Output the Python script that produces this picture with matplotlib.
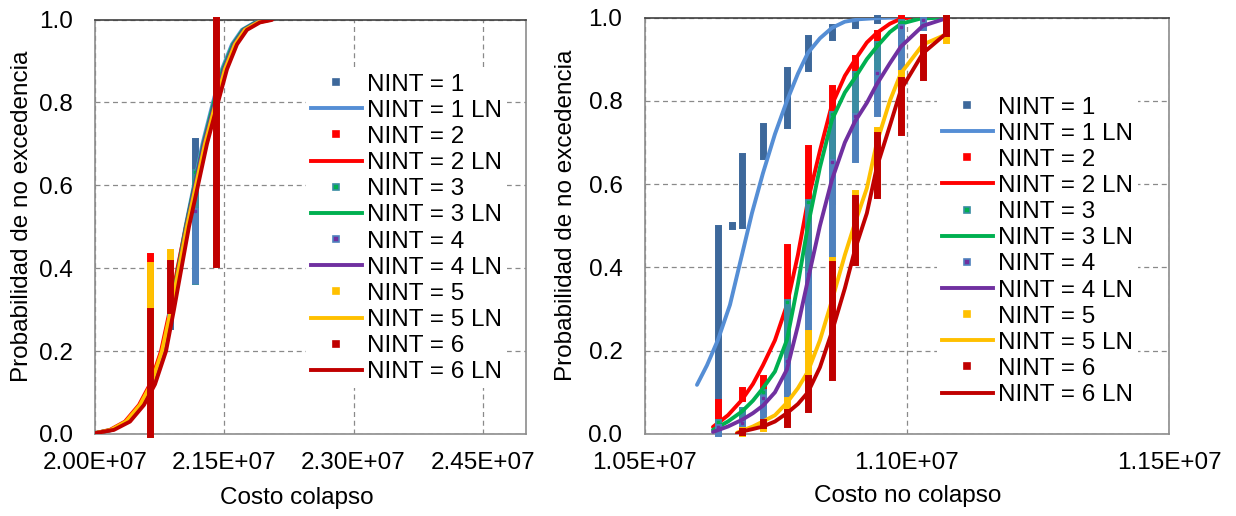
import matplotlib.pyplot as plt
from matplotlib.lines import Line2D

plt.rcParams['font.family'] = ['Liberation Sans', 'DejaVu Sans']

# ---- Costo colapso (izquierda) ----
# puntos empíricos: (costo, prob. inferior, prob. superior) de cada columna de marcadores
cc_pts = [
    [(2.064e7, 0.0, 0.25), (2.087e7, 0.26, 0.36), (2.116e7, 0.372, 0.706), (2.140e7, 0.715, 1.0)],
    [(2.064e7, 0.0, 0.43), (2.140e7, 0.44, 1.0)],
    [(2.064e7, 0.0, 0.28), (2.087e7, 0.29, 0.36), (2.116e7, 0.37, 0.632), (2.140e7, 0.64, 1.0)],
    [(2.064e7, 0.0, 0.28), (2.087e7, 0.29, 0.36), (2.116e7, 0.372, 0.538), (2.140e7, 0.55, 1.0)],
    [(2.064e7, 0.0, 0.407), (2.087e7, 0.41, 0.438), (2.140e7, 0.44, 1.0)],
    [(2.064e7, 0.0, 0.296), (2.087e7, 0.30, 0.412), (2.140e7, 0.41, 1.0)],
]
# curvas lognormales ajustadas
cc_ln_p = [0.002, 0.01, 0.03, 0.07, 0.12, 0.2, 0.3, 0.4, 0.5, 0.6, 0.7, 0.8, 0.88, 0.94, 0.975, 0.993, 0.999]
cc_ln_x = [
    [2.0000, 2.0197, 2.0371, 2.0534, 2.0661, 2.0789, 2.0881, 2.0963, 2.1050, 2.1148, 2.1247, 2.1369, 2.1473, 2.1589, 2.1705, 2.1856, 2.1995],
    [2.0000, 2.0174, 2.0348, 2.0510, 2.0638, 2.0766, 2.0870, 2.0957, 2.1055, 2.1160, 2.1264, 2.1392, 2.1496, 2.1612, 2.1728, 2.1879, 2.2018],
    [2.0000, 2.0197, 2.0371, 2.0534, 2.0661, 2.0789, 2.0881, 2.0968, 2.1055, 2.1154, 2.1258, 2.1380, 2.1485, 2.1601, 2.1717, 2.1867, 2.2007],
    [2.0000, 2.0203, 2.0377, 2.0539, 2.0667, 2.0795, 2.0893, 2.0974, 2.1061, 2.1160, 2.1264, 2.1392, 2.1496, 2.1612, 2.1728, 2.1879, 2.2018],
    [2.0000, 2.0186, 2.0360, 2.0522, 2.0650, 2.0777, 2.0881, 2.0974, 2.1067, 2.1171, 2.1276, 2.1403, 2.1508, 2.1624, 2.1740, 2.1891, 2.2030],
    [2.0000, 2.0220, 2.0406, 2.0568, 2.0696, 2.0824, 2.0916, 2.1003, 2.1090, 2.1195, 2.1299, 2.1427, 2.1531, 2.1647, 2.1763, 2.1914, 2.2053],
]

# ---- Costo no colapso (derecha) ----
cnc_pts = [
    [(1.0640e7, 0.008, 0.494), (1.0666e7, 0.499, 0.503), (1.0685e7, 0.503, 0.667), (1.0726e7, 0.668, 0.740),
     (1.0771e7, 0.742, 0.874), (1.0812e7, 0.878, 0.950), (1.0858e7, 0.954, 0.978), (1.0901e7, 0.982, 0.990),
     (1.0943e7, 0.994, 0.998)],
    [(1.0640e7, 0.008, 0.078), (1.0685e7, 0.086, 0.105), (1.0726e7, 0.113, 0.134), (1.0771e7, 0.14, 0.45),
     (1.0812e7, 0.455, 0.686), (1.0858e7, 0.69, 0.83), (1.0901e7, 0.835, 0.902), (1.0943e7, 0.906, 0.962),
     (1.0989e7, 0.966, 0.998)],
    [(1.0640e7, 0.005, 0.03), (1.0685e7, 0.035, 0.058), (1.0726e7, 0.06, 0.10), (1.0771e7, 0.105, 0.317),
     (1.0812e7, 0.32, 0.557), (1.0858e7, 0.56, 0.768), (1.0901e7, 0.77, 0.864), (1.0943e7, 0.868, 0.936),
     (1.0989e7, 0.94, 0.99)],
    [(1.0640e7, 0.003, 0.018), (1.0685e7, 0.02, 0.026), (1.0726e7, 0.03, 0.086), (1.0771e7, 0.09, 0.175),
     (1.0812e7, 0.19, 0.385), (1.0858e7, 0.43, 0.653), (1.0901e7, 0.66, 0.763), (1.0943e7, 0.77, 0.867),
     (1.0989e7, 0.875, 0.977), (1.1031e7, 0.978, 0.995)],
    [(1.0685e7, 0.003, 0.010), (1.0726e7, 0.015, 0.03), (1.0771e7, 0.035, 0.081), (1.0812e7, 0.085, 0.242),
     (1.0858e7, 0.245, 0.417), (1.0901e7, 0.42, 0.578), (1.0943e7, 0.58, 0.729), (1.0989e7, 0.73, 0.866),
     (1.1031e7, 0.87, 0.94), (1.1074e7, 0.945, 0.998)],
    [(1.0685e7, 0.004, 0.008), (1.0726e7, 0.022, 0.028), (1.0771e7, 0.025, 0.054), (1.0812e7, 0.061, 0.134),
     (1.0858e7, 0.138, 0.408), (1.0901e7, 0.414, 0.566), (1.0943e7, 0.574, 0.718), (1.0989e7, 0.726, 0.85),
     (1.1031e7, 0.858, 0.954), (1.1074e7, 0.962, 0.998)],
]
cnc_ln_x = [
    [1.05997, 1.06188, 1.06397, 1.06626, 1.06855, 1.07045, 1.07255, 1.07484, 1.07713, 1.07922, 1.08113, 1.08342,
     1.08570, 1.08818, 1.09104, 1.09485, 1.09828],
    [1.06302, 1.06588, 1.06855, 1.07064, 1.07255, 1.07484, 1.07713, 1.07922, 1.08113, 1.08342, 1.08570, 1.08818,
     1.09009, 1.09237, 1.09428, 1.09676, 1.09886, 1.10057],
    [1.06302, 1.06588, 1.06855, 1.07064, 1.07255, 1.07484, 1.07713, 1.07922, 1.08113, 1.08342, 1.08570, 1.08818,
     1.09009, 1.09237, 1.09428, 1.09676, 1.09886, 1.10248, 1.10667],
    [1.06302, 1.06588, 1.06855, 1.07064, 1.07255, 1.07484, 1.07713, 1.07922, 1.08113, 1.08342, 1.08570, 1.08818,
     1.09009, 1.09237, 1.09428, 1.09676, 1.09886, 1.10305, 1.10724],
    [1.06759, 1.06855, 1.07064, 1.07255, 1.07484, 1.07713, 1.07922, 1.08113, 1.08342, 1.08570, 1.08818, 1.09009,
     1.09237, 1.09428, 1.09676, 1.09886, 1.10305, 1.10762],
    [1.06759, 1.06855, 1.07064, 1.07255, 1.07484, 1.07713, 1.07922, 1.08113, 1.08342, 1.08570, 1.08818, 1.09009,
     1.09237, 1.09428, 1.09676, 1.09886, 1.10305, 1.10762],
]
cnc_ln_p = [
    [0.118, 0.165, 0.226, 0.31, 0.43, 0.53, 0.626, 0.72, 0.80, 0.865, 0.915, 0.95, 0.975, 0.99, 0.996, 0.999, 1.0],
    [0.017, 0.045, 0.082, 0.12, 0.165, 0.225, 0.31, 0.43, 0.56, 0.68, 0.79, 0.86, 0.898, 0.94, 0.963, 0.985, 0.997, 1.0],
    [0.01, 0.03, 0.054, 0.08, 0.11, 0.15, 0.226, 0.36, 0.50, 0.64, 0.754, 0.82, 0.855, 0.90, 0.93, 0.965, 0.985, 0.997, 1.0],
    [0.005, 0.018, 0.034, 0.05, 0.068, 0.10, 0.155, 0.26, 0.37, 0.50, 0.61, 0.70, 0.75, 0.795, 0.84, 0.89, 0.93, 0.98, 0.997],
    [0.003, 0.008, 0.018, 0.03, 0.045, 0.075, 0.11, 0.15, 0.225, 0.32, 0.43, 0.506, 0.59, 0.70, 0.80, 0.866, 0.935, 0.96],
    [0.001, 0.006, 0.012, 0.018, 0.03, 0.05, 0.072, 0.10, 0.16, 0.245, 0.35, 0.442, 0.53, 0.641, 0.74, 0.826, 0.914, 0.963],
]

labels = ['NINT = 1', 'NINT = 2', 'NINT = 3', 'NINT = 4', 'NINT = 5', 'NINT = 6']
col_barra = ['#3D689B', '#FF0000', '#3A8CA2', '#4F81BD', '#FFC000', '#C00000']
col_punto = ['#3D689B', '#FF0000', '#00B050', '#7030A0', '#FFC000', '#C00000']
col_linea = ['#558ED5', '#FF0000', '#00B050', '#7030A0', '#FFC000', '#C00000']

FS = 17.5


def dibujar(ax, pts, ln_x, ln_p, escala):
    for i in range(6):
        z = 3 + 2 * i
        for x, lo, hi in pts[i]:
            ax.plot([x, x], [lo, hi], color=col_barra[i], lw=5, solid_capstyle='projecting',
                    zorder=z, clip_on=False)
            if col_punto[i] != col_barra[i]:
                ax.plot([x], [hi], ls='none', marker='s', ms=1.6, mfc=col_punto[i], mec=col_punto[i],
                        zorder=z, clip_on=False)
        xs = [v * escala for v in ln_x[i]]
        ps = ln_p if isinstance(ln_p[0], float) else ln_p[i]
        ax.plot(xs, ps, color=col_linea[i], lw=2.8, zorder=z + 1, solid_capstyle='round',
                solid_joinstyle='round')


def formato(ax, xlim, xticks, xlabel, xl_pos, yl_pos, leg_pos):
    ax.set_xlim(*xlim)
    ax.set_ylim(0, 1)
    ax.set_xticks(xticks)
    ax.set_xticklabels([f'{t:.2E}' for t in xticks])
    ax.set_yticks([0, 0.2, 0.4, 0.6, 0.8, 1.0])
    ax.set_yticklabels(['0.0', '0.2', '0.4', '0.6', '0.8', '1.0'])
    ax.tick_params(axis='both', length=0, labelsize=FS)
    ax.tick_params(axis='y', pad=16)
    ax.tick_params(axis='x', pad=13)
    ax.grid(True, color='#8a8a8a', ls=(0, (4, 3)), lw=0.9, zorder=0)
    ax.set_axisbelow(True)
    for s in ['left', 'right', 'bottom']:
        ax.spines[s].set_color('#8c8c8c')
        ax.spines[s].set_linewidth(1.2)
    ax.spines['top'].set_color('#404040')
    ax.spines['top'].set_linewidth(1.2)
    ax.set_xlabel(xlabel, fontsize=FS)
    ax.xaxis.set_label_coords(*xl_pos)
    ax.set_ylabel('Probabilidad de no excedencia', fontsize=FS)
    ax.yaxis.set_label_coords(*yl_pos)

    handles, texts = [], []
    for i in range(6):
        handles.append(Line2D([], [], ls='none', marker='s', ms=4.5, mfc=col_punto[i],
                              mec=col_barra[i], mew=1.2))
        texts.append(labels[i])
        handles.append(Line2D([], [], color=col_linea[i], lw=2.8))
        texts.append(labels[i] + ' LN')
    leg = ax.legend(handles, texts, loc='upper left', bbox_to_anchor=leg_pos, fontsize=FS,
                    frameon=True, fancybox=False, framealpha=1, borderpad=0.2, borderaxespad=0,
                    labelspacing=0.17, handlelength=2.1, handletextpad=0.2)
    leg.get_frame().set_edgecolor('none')
    leg.get_frame().set_facecolor('white')
    leg.set_zorder(30)


fig = plt.figure(figsize=(12.36, 5.16), dpi=100)
ax1 = fig.add_axes([95 / 1236, 1 - 434 / 516, 431 / 1236, 414.5 / 516])
ax2 = fig.add_axes([644.7 / 1236, 1 - 434 / 516, 524.3 / 1236, 416.5 / 516])

dibujar(ax1, cc_pts, cc_ln_x, cc_ln_p, 1e7)
formato(ax1, (2.0e7, 2.5e7), [2.0e7, 2.15e7, 2.30e7, 2.45e7], 'Costo colapso',
        (0.469, -0.128), (-0.144, 0.524), (0.4896, 0.881))

dibujar(ax2, cnc_pts, cnc_ln_x, cnc_ln_p, 1e7)
formato(ax2, (1.05e7, 1.15e7), [1.05e7, 1.10e7, 1.15e7], 'Costo no colapso',
        (0.502, -0.122), (-0.129, 0.526), (0.5575, 0.822))

fig.savefig('out.png', dpi=100)
